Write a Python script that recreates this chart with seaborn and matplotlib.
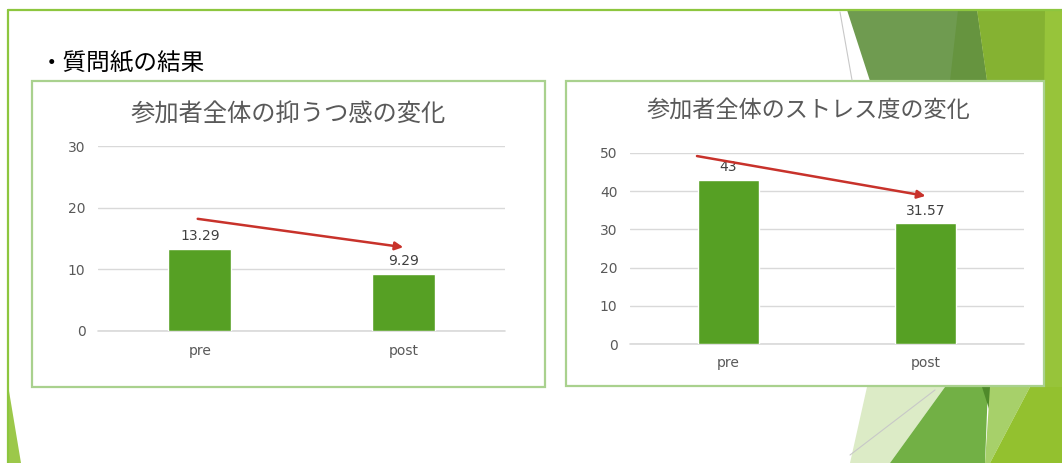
import matplotlib
matplotlib.use("Agg")
import matplotlib.pyplot as plt
import seaborn as sns
from matplotlib.patches import Polygon, Rectangle
from matplotlib.lines import Line2D

# datos
categorias = ["pre", "post"]
depresion = [13.29, 9.29]
estres = [43, 31.57]
titulo_dep = "参加者全体の抑うつ感の変化"
titulo_est = "参加者全体のストレス度の変化"
encabezado = "・質問紙の結果"

sns.set_style("white")
plt.rcParams['font.family'] = ['Noto Sans CJK JP', 'DejaVu Sans']

W, H = 1062, 463
fig = plt.figure(figsize=(W / 100, H / 100), dpi=100)
fig.patch.set_facecolor("white")


def px(x, y):
    return (x / W, 1 - y / H)


def poligono(puntos, color, z=0):
    fig.patches.append(Polygon([px(*p) for p in puntos], closed=True, transform=fig.transFigure,
                               facecolor=color, edgecolor="none", zorder=z))


# decoracion de la diapositiva (triangulos verdes)
poligono([(847, 10), (977, 10), (987, 81), (870, 81)], "#6f9b50")
poligono([(958, 10), (977, 10), (987, 81), (950, 81)], "#66943f")
poligono([(977, 10), (1062, 10), (1062, 81), (987, 81)], "#85b232")
poligono([(1045, 10), (1062, 10), (1062, 463), (1040, 463)], "#97c43a")
poligono([(867, 387), (945, 387), (890, 463), (850, 463)], "#dcebc6")
poligono([(945, 387), (988, 387), (985, 463), (890, 463)], "#72b045")
poligono([(982, 387), (996, 387), (990, 412)], "#4f8a2a")
poligono([(990, 387), (1030, 387), (990, 463), (985, 463)], "#a7d06a")
poligono([(1030, 387), (1062, 387), (1062, 463), (990, 463)], "#93c12f")
poligono([(8, 385), (21, 463), (8, 463)], "#9cc84a")
fig.lines.append(Line2D([840 / W, 852 / W], [1 - 12 / H, 1 - 80 / H], transform=fig.transFigure,
                        color="#c8c8c8", lw=0.8))
fig.lines.append(Line2D([850 / W, 935 / W], [1 - 455 / H, 1 - 390 / H], transform=fig.transFigure,
                        color="#c8c8c8", lw=0.8))
fig.lines.append(Line2D([8 / W, 1062 / W], [1 - 10 / H, 1 - 10 / H], transform=fig.transFigure,
                        color="#8dc63f", lw=1.6))
fig.lines.append(Line2D([8 / W, 8 / W], [1 - 10 / H, 0], transform=fig.transFigure,
                        color="#8dc63f", lw=1.6))

fig.text(40 / W, 1 - 64 / H, encabezado, fontsize=17, color="black", va="center", ha="left")

# cajas de los graficos
for (x0, y0, x1, y1) in [(32, 81, 545, 387), (566, 81, 1044, 386)]:
    fig.patches.append(Rectangle(px(x0, y1), (x1 - x0) / W, (y1 - y0) / H, transform=fig.transFigure,
                                 facecolor="white", edgecolor="#a9d18e", lw=1.6, zorder=1))

graficos = [
    (titulo_dep, depresion, (98, 146, 505, 331), 30, 17.5, (288, 115), (-0.01, 4.9, 4.3)),
    (titulo_est, estres, (630, 153, 1024, 344), 50, 16.7, (808, 110), (-0.16, 6.2, 7.2)),
]

for titulo, valores, (l, t, r, b), ymax, fs, (tx, ty), (dx, off0, off1) in graficos:
    ax = fig.add_axes([l / W, 1 - b / H, (r - l) / W, (b - t) / H])
    ax.set_facecolor("none")
    ax.set_zorder(2)
    sns.barplot(x=categorias, y=valores, color="#56a024", saturation=1, width=0.31, ax=ax)
    ax.set_xlim(-0.5, 1.5)
    ax.set_ylim(0, ymax)
    ax.set_yticks(range(0, ymax + 1, 10))
    ax.yaxis.grid(True, color="#d9d9d9", lw=1)
    ax.axhline(0, color="#d9d9d9", lw=1.2, clip_on=False, zorder=0)
    ax.set_axisbelow(True)
    sns.despine(ax=ax, left=True, bottom=True)
    ax.tick_params(axis="both", length=0, labelsize=10, colors="#595959")
    ax.tick_params(axis="y", pad=9)
    ax.tick_params(axis="x", pad=9)
    for lab in ax.get_xticklabels() + ax.get_yticklabels():
        lab.set_fontfamily("DejaVu Sans")
    ax.bar_label(ax.containers[0], fmt="%g", padding=4, fontsize=10, color="#404040",
                 family="DejaVu Sans")
    ax.annotate("", xy=(1.0, valores[1] + off1), xytext=(dx, valores[0] + off0),
                arrowprops=dict(arrowstyle="-|>", color="#c8322b", lw=1.8, mutation_scale=12,
                                shrinkA=0, shrinkB=0))
    fig.text(tx / W, 1 - ty / H, titulo, fontsize=fs, color="#595959", ha="center", va="center")

fig.savefig("out.png", dpi=100)
